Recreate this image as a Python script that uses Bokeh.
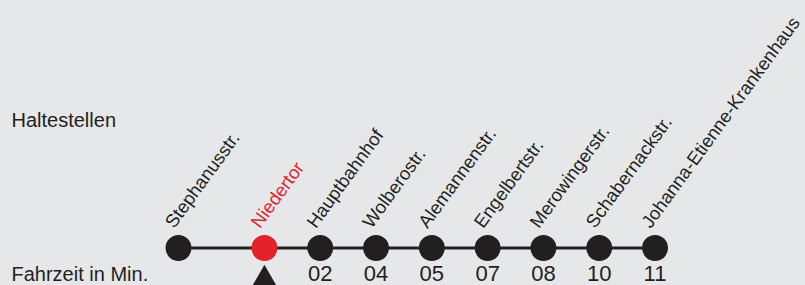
from bokeh.plotting import figure
from bokeh.models import Range1d, Label
from bokeh.embed import file_html
from bokeh.resources import INLINE
from bokeh.core.properties import value
import math

# ---- data ----
stops = ["Stephanusstr.", "Niedertor", "Hauptbahnhof", "Wolberostr.",
         "Alemannenstr.", "Engelbertstr.", "Merowingerstr.",
         "Schabernackstr.", "Johanna-Etienne-Krankenhaus"]
minutes = ["", "", "02", "04", "05", "07", "08", "10", "11"]
current_stop = "Niedertor"
row_labels = ["Haltestellen", "Fahrzeit in Min."]

# ---- style ----
BG = "#e6e7e9"
INK = "#231f20"
RED = "#e3222a"
FONT = "Liberation Sans"
W, H = 805, 285
UNIT = 55.8        # px per stop
X0 = 178           # px of first stop
LINE_Y = 247.5     # px from top of line
GAP = 0.54         # extra gap after the first stop
BL = 0.375         # baseline correction (em) of svg text
ANG = 54
LBL_FS = 18.5
NUM_FS = 22
ROW_FS = 20

n = len(stops)
pos = [0.0] + [i + GAP for i in range(1, n)]
cur = stops.index(current_stop)
colors = [RED if s == current_stop else INK for s in stops]

p = figure(width=W, height=H, output_backend="svg", toolbar_location=None,
           x_range=Range1d(-X0 / UNIT, (W - X0) / UNIT),
           y_range=Range1d(-(H - LINE_Y), LINE_Y),
           min_border=0)
p.axis.visible = False
p.grid.visible = False
p.outline_line_color = None
p.background_fill_color = BG
p.border_fill_color = BG

# line and stops
p.line(pos, [0] * n, line_width=3, line_color=INK)
p.scatter(pos, [0] * n, size=26, fill_color=colors, line_color=None)

# current position marker
p.scatter([pos[cur]], [-37.6], marker="triangle", size=36,
          fill_color=INK, line_color=None)

# stop names
sh = BL * LBL_FS
a = math.radians(ANG)
p.text(x=pos, y=[18.5 + sh * math.cos(a)] * n, text=stops,
       angle=ANG, angle_units="deg",
       x_offset=-4 - sh * math.sin(a), text_align="left",
       text_baseline="alphabetic",
       text_font=value(FONT), text_font_size="%.1fpx" % LBL_FS,
       text_color=colors)

# travel times
tx = [x for x, m in zip(pos, minutes) if m]
tt = [m for m in minutes if m]
p.text(x=tx, y=[-34.2 + BL * NUM_FS] * len(tx), text=tt, text_align="center",
       text_baseline="alphabetic", text_font=value(FONT),
       text_font_size="%dpx" % NUM_FS, text_color=INK)

# row labels
p.add_layout(Label(x=11, y=H - 126.7 + BL * ROW_FS, x_units="screen",
                   y_units="screen", text=row_labels[0], text_font=FONT,
                   text_font_size="%dpx" % ROW_FS, text_color=INK,
                   text_baseline="alphabetic"))
p.add_layout(Label(x=11, y=H - 281 + BL * ROW_FS, x_units="screen",
                   y_units="screen", text=row_labels[1], text_font=FONT,
                   text_font_size="%dpx" % ROW_FS, text_color=INK,
                   text_baseline="alphabetic"))

html = file_html(p, INLINE)
html = html.replace("<head>", "<head><style>html,body{margin:0;padding:0;background:%s;overflow:hidden}</style>" % BG, 1)
open("out.html", "w").write(html)
